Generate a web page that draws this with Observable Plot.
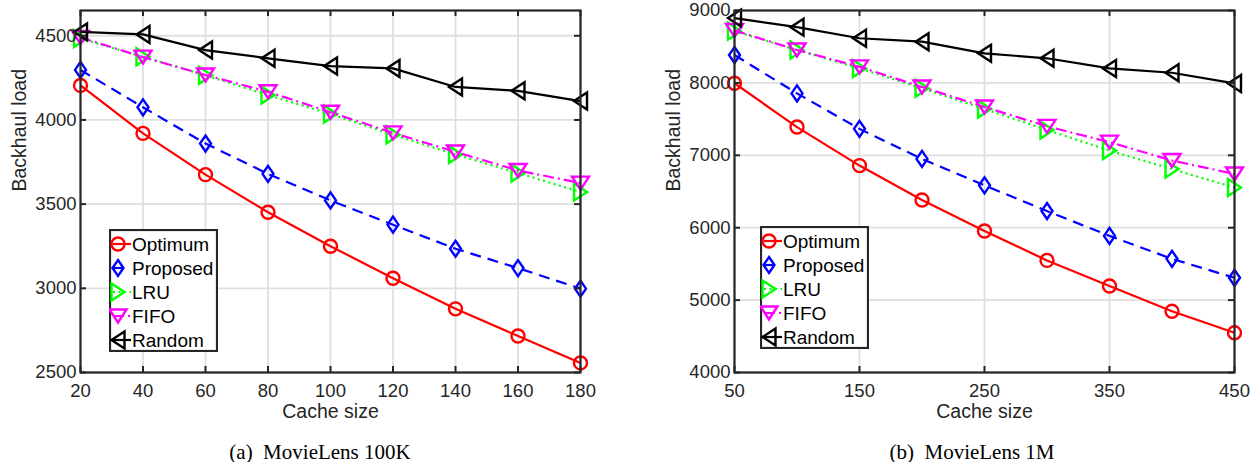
<!DOCTYPE html>
<html><head><meta charset="utf-8">
<script src="https://cdn.jsdelivr.net/npm/d3@7"></script>
<script src="https://cdn.jsdelivr.net/npm/@observablehq/plot@0.6"></script>
<style>
body{margin:0;background:#fff;width:1253px;height:462px;position:relative;overflow:hidden;font-family:"Liberation Sans",Arial,sans-serif;}
.panel{position:absolute;top:0;}
.caption{position:absolute;top:440px;line-height:24px;font-family:"Liberation Serif","Times New Roman",serif;font-size:21px;color:#000;white-space:pre;transform:translateX(-50%);}
.legend{position:absolute;}
</style></head><body>
<div id="p1" class="panel" style="left:0px"></div>
<div id="p2" class="panel" style="left:626px"></div>
<div class="caption" style="left:320px">(a)  MovieLens 100K</div>
<div class="caption" style="left:972px">(b)  MovieLens 1M</div>
<script>
// ---- data ----
const seriesNames = ["Optimum", "Proposed", "LRU", "FIFO", "Random"];
const seriesColors = ["#ff0000", "#0000ff", "#00ff00", "#ff00ff", "#000000"];

const cacheA = [20, 40, 60, 80, 100, 120, 140, 160, 180];
const optimumA = [4205, 3920, 3675, 3452, 3250, 3060, 2878, 2717, 2557];
const proposedA = [4297, 4075, 3860, 3680, 3522, 3378, 3235, 3120, 2998];
const lruA = [4484, 4375, 4265, 4148, 4035, 3912, 3795, 3685, 3572];
const fifoA = [4490, 4373, 4267, 4167, 4046, 3923, 3810, 3700, 3625];
const randomA = [4523, 4508, 4415, 4366, 4320, 4306, 4196, 4173, 4112];
const xTicksA = [20, 40, 60, 80, 100, 120, 140, 160, 180];
const yTicksA = [2500, 3000, 3500, 4000, 4500];

const cacheB = [50, 100, 150, 200, 250, 300, 350, 400, 450];
const optimumB = [7995, 7390, 6858, 6382, 5955, 5548, 5195, 4845, 4548];
const proposedB = [8385, 7855, 7365, 6950, 6585, 6230, 5887, 5570, 5308];
const lruB = [8715, 8455, 8200, 7925, 7640, 7350, 7065, 6810, 6555];
const fifoB = [8725, 8455, 8222, 7944, 7668, 7400, 7182, 6928, 6742];
const randomB = [8895, 8770, 8617, 8569, 8408, 8340, 8200, 8140, 7993];
const xTicksB = [50, 150, 250, 350, 450];
const yTicksB = [4000, 5000, 6000, 7000, 8000, 9000];

// ---- symbols ----
function poly(pts) {
  return {draw(ctx, size) {
    const s = Math.sqrt(size / Math.PI) / 6.5;
    ctx.moveTo(pts[0][0] * s, pts[0][1] * s);
    for (let i = 1; i < pts.length; i++) ctx.lineTo(pts[i][0] * s, pts[i][1] * s);
    ctx.closePath();
  }};
}
const circleSym = {draw(ctx, size) { const r = Math.sqrt(size / Math.PI); ctx.moveTo(r, 0); ctx.arc(0, 0, r, 0, 2 * Math.PI); }};
const diamondSym = poly([[0, -8], [5.5, 0], [0, 8], [-5.5, 0]]);
const triRightSym = poly([[-6.5, -8.5], [6.5, 0], [-6.5, 8.5]]);
const triDownSym = poly([[-8.5, -6.5], [8.5, -6.5], [0, 6.5]]);
const triLeftSym = poly([[6.5, -8.5], [-6.5, 0], [6.5, 8.5]]);
const seriesSymbols = [circleSym, diamondSym, triRightSym, triDownSym, triLeftSym];
const seriesDash = [null, "11,7", "2,3.5", "11,4,2,4", null];

const AX = "#262626";

function makePanel(el, {x, values, xDomain, yDomain, xTicks, yTicks, width, marginLeft, marginRight, legendPos}) {
  const H = 425, mt = 10, mb = 53;
  const ph = H - mt - mb, pw = width - marginLeft - marginRight;
  const marks = [
    Plot.gridX(xTicks, {x: d => d, stroke: "#dfdfdf", strokeOpacity: 1, strokeWidth: 1.8}),
    Plot.gridY(yTicks, {y: d => d, stroke: "#dfdfdf", strokeOpacity: 1, strokeWidth: 1.8})
  ];
  seriesNames.forEach((name, k) => {
    const rows = x.map((xv, i) => ({x: xv, y: values[k][i]}));
    marks.push(Plot.line(rows, {x: "x", y: "y", stroke: seriesColors[k], strokeWidth: 2.2,
      strokeDasharray: seriesDash[k], strokeLinecap: "butt"}));
    marks.push(Plot.dot(rows, {x: "x", y: "y", stroke: seriesColors[k], fill: "none", strokeWidth: 2.4,
      r: 6.5, symbol: seriesSymbols[k]}));
  });
  marks.push(
    Plot.tickX(xTicks, {x: d => d, stroke: AX, strokeWidth: 2, insetTop: ph - 6}),
    Plot.tickX(xTicks, {x: d => d, stroke: AX, strokeWidth: 2, insetBottom: ph - 6}),
    Plot.tickY(yTicks, {y: d => d, stroke: AX, strokeWidth: 2, insetRight: pw - 6}),
    Plot.tickY(yTicks, {y: d => d, stroke: AX, strokeWidth: 2, insetLeft: pw - 6}),
    Plot.frame({stroke: AX, strokeWidth: 2.2}),
    Plot.axisX(xTicks, {tickSize: 0, tickPadding: 11, fontSize: 18.5, fill: AX, label: null, tickFormat: d => String(d)}),
    Plot.axisY(yTicks, {tickSize: 0, tickPadding: 4, fontSize: 18.5, fill: AX, label: null, tickFormat: d => String(d)}),
    Plot.text(["Cache size"], {frameAnchor: "bottom", dy: 45, fontSize: 19.5, fill: AX, text: d => d}),
    Plot.text(["Backhaul load"], {frameAnchor: "left", dx: -61, rotate: -90, fontSize: 19.5, fill: AX, text: d => d})
  );
  const chart = Plot.plot({
    width, height: H, marginTop: mt, marginBottom: mb, marginLeft, marginRight,
    x: {domain: xDomain, axis: null},
    y: {domain: yDomain, axis: null},
    style: {fontFamily: "'Liberation Sans', Arial, sans-serif", fontSize: "18px", color: AX, background: "transparent", overflow: "visible"},
    marks
  });
  el.appendChild(chart);

  // legend
  const [lx, ly, lw, lh] = legendPos;
  const svg = d3.select("body").append("svg").attr("class", "legend")
    .style("left", lx + "px").style("top", ly + "px").attr("width", lw + 2).attr("height", lh + 2);
  svg.append("rect").attr("x", 1).attr("y", 1).attr("width", lw).attr("height", lh)
    .attr("fill", "#fff").attr("stroke", AX).attr("stroke-width", 2.2);
  seriesNames.forEach((name, k) => {
    const cy = 1 + 14 + k * 24;
    const g = svg.append("g");
    g.append("line").attr("x1", 4).attr("x2", 22).attr("y1", cy).attr("y2", cy)
      .attr("stroke", seriesColors[k]).attr("stroke-width", 2.2).attr("stroke-dasharray", seriesDash[k]);
    const p = d3.path();
    seriesSymbols[k].draw(p, Math.PI * 6.5 * 6.5);
    g.append("path").attr("d", p.toString()).attr("transform", `translate(9,${cy})`)
      .attr("fill", "none").attr("stroke", seriesColors[k]).attr("stroke-width", 2.4);
    g.append("text").attr("x", 23).attr("y", cy).attr("dy", "0.35em")
      .attr("font-size", 19).attr("fill", "#000")
      .attr("font-family", "'Liberation Sans', Arial, sans-serif").text(name);
  });
}

makePanel(document.getElementById("p1"), {
  x: cacheA, values: [optimumA, proposedA, lruA, fifoA, randomA],
  xDomain: [20, 180], yDomain: [2500, 4650], xTicks: xTicksA, yTicks: yTicksA,
  width: 626, marginLeft: 80, marginRight: 46, legendPos: [109, 229, 107, 121]
});
makePanel(document.getElementById("p2"), {
  x: cacheB, values: [optimumB, proposedB, lruB, fifoB, randomB],
  xDomain: [50, 450], yDomain: [4000, 9000], xTicks: xTicksB, yTicks: yTicksB,
  width: 627, marginLeft: 108, marginRight: 19, legendPos: [760, 226, 107, 121]
});
</script>
</body></html>
